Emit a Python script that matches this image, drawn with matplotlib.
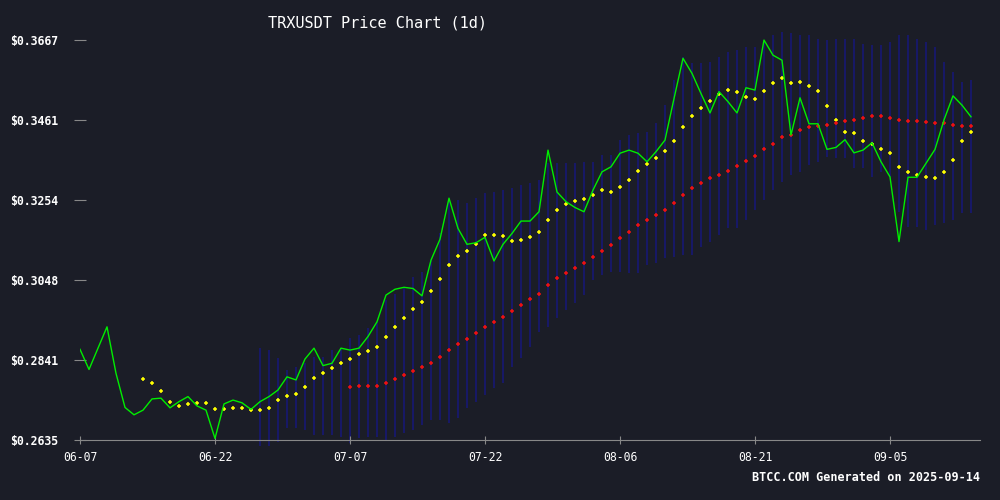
import matplotlib
matplotlib.use("Agg")
import matplotlib.pyplot as plt
import numpy as np
import datetime as dt

start = dt.date(2025, 6, 7)
price = [0.2869,0.2817,0.2872,0.2927,0.2807,0.2719,0.2700,0.2712,0.2741,0.2743,
         0.2718,0.2734,0.2747,0.2723,0.2712,0.2639,0.2728,0.2738,0.2731,0.2714,
         0.2734,0.2747,0.2764,0.2798,0.2790,0.2844,0.2872,0.2827,0.2833,0.2872,
         0.2867,0.2872,0.2902,0.2940,0.3009,0.3024,0.3029,0.3026,0.3007,0.3099,
         0.3153,0.3259,0.3181,0.3140,0.3144,0.3158,0.3097,0.3140,0.3168,0.3200,
         0.3200,0.3224,0.3383,0.3275,0.3250,0.3235,0.3224,0.3280,0.3327,0.3340,
         0.3375,0.3383,0.3375,0.3353,0.3379,0.3409,0.3516,0.3620,0.3581,0.3529,
         0.3479,0.3534,0.3508,0.3479,0.3544,0.3538,0.3667,0.3628,0.3615,0.3422,
         0.3518,0.3451,0.3451,0.3385,0.3390,0.3410,0.3376,0.3383,0.3402,0.3353,
         0.3314,0.3147,0.3313,0.3313,0.3349,0.3385,0.3461,0.3523,0.3499,0.3469]
ma_short_start = 7
ma_short = [0.2792,0.2781,0.2761,0.2732,0.2723,0.2727,0.2730,0.2730,0.2714,0.2714,
            0.2717,0.2717,0.2712,0.2712,0.2717,0.2738,0.2748,0.2753,0.2771,0.2794,
            0.2807,0.2820,0.2833,0.2843,0.2856,0.2864,0.2874,0.2900,0.2926,0.2949,
            0.2972,0.2990,0.3019,0.3050,0.3086,0.3109,0.3124,0.3140,0.3163,0.3163,
            0.3161,0.3148,0.3150,0.3158,0.3171,0.3202,0.3228,0.3243,0.3253,0.3256,
            0.3266,0.3281,0.3274,0.3289,0.3307,0.3328,0.3346,0.3362,0.3380,0.3406,
            0.3442,0.3470,0.3491,0.3509,0.3529,0.3537,0.3532,0.3519,0.3514,0.3535,
            0.3555,0.3568,0.3555,0.3560,0.3548,0.3535,0.3496,0.3462,0.3431,0.3426,
            0.3406,0.3400,0.3385,0.3375,0.3339,0.3326,0.3318,0.3313,0.3310,0.3326,
            0.3357,0.3406,0.3429]
ma_long_start = 30
ma_long = [0.2771,0.2774,0.2774,0.2774,0.2781,0.2792,0.2802,0.2812,0.2823,0.2833,
           0.2848,0.2866,0.2882,0.2895,0.2910,0.2926,0.2939,0.2952,0.2967,0.2983,
           0.2998,0.3013,0.3034,0.3052,0.3067,0.3080,0.3091,0.3106,0.3122,0.3137,
           0.3155,0.3173,0.3189,0.3202,0.3215,0.3228,0.3246,0.3266,0.3284,0.3297,
           0.3310,0.3318,0.3328,0.3341,0.3354,0.3367,0.3385,0.3400,0.3416,0.3423,
           0.3434,0.3442,0.3444,0.3447,0.3452,0.3457,0.3462,0.3467,0.3470,0.3470,
           0.3467,0.3460,0.3457,0.3457,0.3455,0.3452,0.3452,0.3447,0.3444,0.3444]
band_start = 20
band_upper = [0.2872,0.2867,0.2846,0.2816,0.2824,0.2833,0.2850,0.2850,0.2867,0.2872,
              0.2897,0.2906,0.2923,0.2940,0.2996,0.3013,0.3026,0.3056,0.3069,0.3099,
              0.3168,0.3254,0.3254,0.3246,0.3259,0.3272,0.3276,0.3280,0.3284,0.3293,
              0.3297,0.3306,0.3349,0.3349,0.3349,0.3349,0.3353,0.3353,0.3370,0.3370,
              0.3409,0.3422,0.3426,0.3430,0.3452,0.3499,0.3564,0.3624,0.3607,0.3607,
              0.3611,0.3624,0.3637,0.3641,0.3650,0.3650,0.3667,0.3680,0.3688,0.3684,
              0.3680,0.3680,0.3671,0.3667,0.3671,0.3671,0.3671,0.3658,0.3654,0.3654,
              0.3663,0.3680,0.3680,0.3671,0.3663,0.3650,0.3611,0.3585,0.3559,0.3564]
band_lower = [0.2620,0.2620,0.2631,0.2665,0.2665,0.2661,0.2648,0.2648,0.2648,0.2644,
              0.2627,0.2640,0.2644,0.2644,0.2635,0.2644,0.2652,0.2661,0.2674,0.2687,
              0.2687,0.2678,0.2691,0.2717,0.2734,0.2751,0.2768,0.2781,0.2824,0.2846,
              0.2876,0.2914,0.2927,0.2949,0.2970,0.2988,0.3009,0.3048,0.3061,0.3069,
              0.3069,0.3065,0.3065,0.3087,0.3091,0.3104,0.3108,0.3112,0.3112,0.3134,
              0.3147,0.3164,0.3181,0.3181,0.3203,0.3228,0.3254,0.3280,0.3301,0.3319,
              0.3327,0.3345,0.3353,0.3366,0.3362,0.3362,0.3336,0.3336,0.3314,0.3327,
              0.3314,0.3224,0.3185,0.3185,0.3177,0.3190,0.3194,0.3203,0.3220,0.3220]
y_ticks = [0.2635, 0.2841, 0.3048, 0.3254, 0.3461, 0.3667]
x_tick_days = [0, 15, 30, 45, 60, 75, 90]

BG = "#1b1d27"
mono = "DejaVu Sans Mono"
fig = plt.figure(figsize=(10, 5), dpi=100, facecolor=BG)
ax = fig.add_axes([0.08, 0.12, 0.90, 0.82], facecolor=BG)

bx = np.arange(band_start, band_start + len(band_upper))
ax.vlines(bx, band_lower, band_upper, color="#17177a", lw=1.1, zorder=1, clip_on=False)
px = np.arange(len(price))
ax.plot(px, price, color="#00ee00", lw=1.0, zorder=4)
sx = np.arange(ma_short_start, ma_short_start + len(ma_short))
ax.plot(sx, ma_short, ls="none", marker="+", ms=3.5, mew=1.1, color="#ffff00", zorder=3)
lx = np.arange(ma_long_start, ma_long_start + len(ma_long))
ax.plot(lx, ma_long, ls="none", marker="+", ms=3.5, mew=1.1, color="#ee1111", zorder=3)

ax.set_xlim(0, 100)
ax.set_ylim(0.2635, 0.3693)
for s in ["top", "right", "left"]:
    ax.spines[s].set_visible(False)
ax.spines["bottom"].set_color("#888888")
ax.set_yticks(y_ticks)
ax.set_yticklabels([f"${v:.4f}" for v in y_ticks], fontfamily=mono, fontweight="bold",
                   color="white", fontsize=8.3)
ax.tick_params(axis="y", length=8, color="#888888", direction="inout", pad=12)
ax.set_xticks(x_tick_days)
ax.set_xticklabels([(start + dt.timedelta(days=d)).strftime("%m-%d") for d in x_tick_days],
                   fontfamily=mono, color="white", fontsize=8.3)
ax.tick_params(axis="x", length=6, color="#888888", direction="inout", pad=5)

fig.text(0.378, 0.955, "TRXUSDT Price Chart (1d)", fontfamily=mono, color="white",
         fontsize=11, ha="center", va="center")
fig.text(0.98, 0.045, "BTCC.COM Generated on 2025-09-14", fontfamily=mono, color="white",
         fontsize=8.5, fontweight="bold", ha="right", va="center")
fig.savefig("out.png", dpi=100, facecolor=BG)
